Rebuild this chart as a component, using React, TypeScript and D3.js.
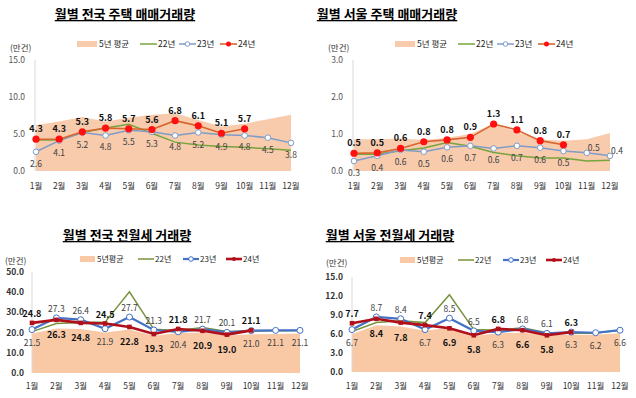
import React from 'react';
import * as d3 from 'd3';

const FONT = "'Noto Sans CJK KR', 'Noto Sans', sans-serif";

const months = ['1월', '2월', '3월', '4월', '5월', '6월', '7월', '8월', '9월', '10월', '11월', '12월'];

// 전국 주택 매매 (만건)
const natSaleAvg = [6.2, 6.7, 7.3, 6.7, 7.2, 7.6, 7.8, 6.9, 6.0, 6.4, 7.0, 7.6];
const natSale22 = [4.2, 4.2, 5.2, 5.8, 6.3, 5.1, 3.9, 3.5, 3.3, 3.2, 3.0, 2.8];
const natSale23 = [2.6, 4.1, 5.2, 4.8, 5.5, 5.3, 4.8, 5.2, 4.9, 4.8, 4.5, 3.8];
const natSale24 = [4.3, 4.3, 5.3, 5.8, 5.7, 5.6, 6.8, 6.1, 5.1, 5.7];

// 서울 주택 매매
const seoulSaleAvg = [0.86, 0.86, 0.88, 0.84, 0.9, 1.0, 1.28, 1.05, 0.85, 0.82, 0.86, 1.03];
const seoulSale22 = [0.45, 0.45, 0.55, 0.62, 0.77, 0.67, 0.5, 0.41, 0.35, 0.35, 0.27, 0.29];
const seoulSale23 = [0.27, 0.41, 0.57, 0.52, 0.64, 0.68, 0.61, 0.68, 0.63, 0.54, 0.49, 0.41];
const seoulSale24 = [0.48, 0.49, 0.61, 0.79, 0.84, 0.91, 1.27, 1.11, 0.82, 0.71];

// 전국 전월세
const natRentAvg = [19.5, 22.0, 21.8, 20.0, 21.5, 18.5, 19.8, 20.0, 18.6, 19.2, 19.3, 19.5];
const natRent22 = [20.5, 24.5, 25.0, 25.2, 40.2, 21.6, 21.0, 22.5, 20.5, 20.8, 20.9, 21.1];
const natRent23 = [21.5, 27.3, 26.4, 21.9, 27.7, 21.3, 20.4, 21.7, 20.1, 21.0, 21.1, 21.1];
const natRent24 = [24.8, 26.3, 24.8, 24.5, 22.8, 19.3, 21.8, 20.9, 19.0, 21.1];

// 서울 전월세
const seoulRentAvg = [6.0, 7.4, 7.2, 6.5, 7.0, 5.7, 6.1, 6.2, 5.8, 5.9, 5.9, 6.1];
const seoulRent22 = [6.4, 7.8, 8.1, 7.8, 12.2, 6.7, 6.6, 7.0, 6.2, 6.1, 6.1, 6.6];
const seoulRent23 = [6.7, 8.7, 8.4, 6.7, 8.5, 6.5, 6.3, 6.8, 6.1, 6.3, 6.2, 6.6];
const seoulRent24 = [7.7, 8.4, 7.8, 7.4, 6.9, 5.8, 6.8, 6.6, 5.8, 6.3];

// label side: a = above, b = below, r = above right
const sideSaleNat23 = 'bbbbbbbbbbbb';
const sideSaleSeoul23 = 'bbbbbbbbbbrr';
const sideRent24 = 'abbabbabba';
const sideRent23 = 'baabaabaabbb';

const COLORS = {
  top: { area: '#F8CBAD', g: '#77A43C', b: '#7F9CC8', r: '#D8652E', rDot: '#FF1010', w22: 1.5, w23: 1.5, w24: 1.6 },
  bottom: { area: '#F9C9A6', g: '#77933C', b: '#4472C4', r: '#B0101A', rDot: '#B0101A', w22: 1.5, w23: 2.2, w24: 2.6 },
};

type Cfg = {
  title: string;
  titleX: number;
  titleY: number;
  variant: 'top' | 'bottom';
  avg: number[];
  s22: number[];
  s23: number[];
  s24: number[];
  side23: string;
  side24: string;
  xr: [number, number];
  yr: [number, number];
  max: number;
  step: number;
  axisX: number;
  tickRight: number;
  unitX: number;
  unitY: number;
  legendX: number;
  legendY: number;
  xLabelY: number;
};

function Panel({ c }: { c: Cfg }) {
  const col = COLORS[c.variant];
  const x = d3.scaleLinear().domain([0, 11]).range(c.xr);
  const y = d3.scaleLinear().domain([0, c.max]).range(c.yr);
  const ticks = d3.range(0, c.max + c.step / 2, c.step);
  const area = d3.area<number>().x((_, i) => x(i)).y0(y(0)).y1(d => y(d));
  const line = d3.line<number>().x((_, i) => x(i)).y(d => y(d));
  const top = c.variant === 'top';
  const lf = top ? 8.5 : 8;
  const off = top
    ? { s: 20, st: 22, l22: 63, l23: 102, l24: 143, len: 17 }
    : { s: 15, st: 17, l22: 58, l23: 103, l24: 146, len: 16 };
  const ly = c.legendY;

  const labelPos = (i: number, v: number, side: string, is24: boolean) => {
    const px = x(i);
    const py = y(v);
    if (side === 'r') return { x: px + 7, y: py - 2 };
    if (side === 'a') return { x: px, y: py - (top ? 7 : 6) };
    return { x: px, y: py + (top ? 15 : is24 ? 18 : 16) };
  };

  return (
    <g>
      <text x={c.titleX} y={c.titleY} textAnchor="middle" fontFamily={FONT} fontWeight="bold" fontSize={13}
        style={{ textDecoration: 'underline' }} fill="#000">{c.title}</text>

      {/* legend */}
      <rect x={c.legendX} y={ly - 3} width={off.s} height={6} fill={col.area} />
      <text x={c.legendX + off.st} y={ly + 3} fontFamily={FONT} fontSize={lf} fill="#222">{top ? '5년 평균' : '5년평균'}</text>
      <line x1={c.legendX + off.l22} x2={c.legendX + off.l22 + off.len} y1={ly} y2={ly} stroke={col.g} strokeWidth={col.w22} />
      <text x={c.legendX + off.l22 + off.len + 1} y={ly + 3} fontFamily={FONT} fontSize={lf} fill="#222">22년</text>
      <line x1={c.legendX + off.l23} x2={c.legendX + off.l23 + off.len} y1={ly} y2={ly} stroke={col.b} strokeWidth={col.w23} />
      <circle cx={c.legendX + off.l23 + off.len / 2} cy={ly} r={2.3} fill="#fff" stroke={col.b} strokeWidth={1} />
      <text x={c.legendX + off.l23 + off.len + 1} y={ly + 3} fontFamily={FONT} fontSize={lf} fill="#222">23년</text>
      <line x1={c.legendX + off.l24} x2={c.legendX + off.l24 + off.len} y1={ly} y2={ly} stroke={col.r} strokeWidth={col.w24} />
      <circle cx={c.legendX + off.l24 + off.len / 2} cy={ly} r={top ? 2.5 : 2} fill={col.rDot} />
      <text x={c.legendX + off.l24 + off.len + 1} y={ly + 3} fontFamily={FONT} fontSize={lf} fill="#222">24년</text>

      <text x={c.unitX} y={c.unitY} fontFamily={FONT} fontSize={8.5} fill="#333">(만건)</text>

      {ticks.map(t => (
        <text key={t} x={c.tickRight} y={y(t) + 3} textAnchor="end" fontFamily={FONT} fontSize={8.5}
          fill={top ? '#555' : '#333'} fontWeight={top ? 'normal' : 'bold'}>{t.toFixed(1)}</text>
      ))}

      <path d={area(c.avg) || ''} fill={col.area} />
      <line x1={c.axisX} x2={c.axisX} y1={y(c.max)} y2={y(0)} stroke="#D9D9D9" strokeWidth={1} />

      <path d={line(c.s22) || ''} fill="none" stroke={col.g} strokeWidth={col.w22} />
      <path d={line(c.s23) || ''} fill="none" stroke={col.b} strokeWidth={col.w23} />
      {c.s23.map((v, i) => (
        <circle key={i} cx={x(i)} cy={y(v)} r={top ? 2.8 : 3} fill="#fff" stroke={col.b} strokeWidth={1} />
      ))}
      <path d={line(c.s24) || ''} fill="none" stroke={col.r} strokeWidth={col.w24} />
      {c.s24.map((v, i) => (
        top
          ? <circle key={i} cx={x(i)} cy={y(v)} r={3.6} fill={col.rDot} />
          : <rect key={i} x={x(i) - 2.3} y={y(v) - 2.3} width={4.6} height={4.6} fill={col.rDot} />
      ))}

      {c.s23.map((v, i) => {
        const p = labelPos(i, v, c.side23[i], false);
        return (
          <text key={i} x={p.x} y={p.y} textAnchor="middle" fontFamily={FONT} fontSize={8.5} fill="#404040">{v.toFixed(1)}</text>
        );
      })}
      {c.s24.map((v, i) => {
        const p = labelPos(i, v, c.side24[i], true);
        return (
          <text key={i} x={p.x} y={p.y} textAnchor="middle" fontFamily={FONT} fontSize={9} fontWeight="bold" fill="#111">{v.toFixed(1)}</text>
        );
      })}

      {months.map((m, i) => (
        <text key={m} x={x(i)} y={c.xLabelY} textAnchor="middle" fontFamily={FONT} fontSize={8.5} fill="#333">{m}</text>
      ))}
    </g>
  );
}

const panels: Cfg[] = [
  {
    title: '월별 전국 주택 매매거래량', titleX: 125, titleY: 19, variant: 'top',
    avg: natSaleAvg, s22: natSale22, s23: natSale23, s24: natSale24,
    side23: sideSaleNat23, side24: 'aaaaaaaaaa',
    xr: [36, 291], yr: [171, 60], max: 15, step: 5, axisX: 35, tickRight: 25,
    unitX: 10, unitY: 51, legendX: 77, legendY: 44, xLabelY: 189,
  },
  {
    title: '월별 서울 주택 매매거래량', titleX: 387, titleY: 19, variant: 'top',
    avg: seoulSaleAvg, s22: seoulSale22, s23: seoulSale23, s24: seoulSale24,
    side23: sideSaleSeoul23, side24: 'aaaaaaaaaa',
    xr: [354, 610], yr: [171, 60], max: 3, step: 1, axisX: 353, tickRight: 343,
    unitX: 328, unitY: 51, legendX: 395, legendY: 44, xLabelY: 189,
  },
  {
    title: '월별 전국 전월세 거래량', titleX: 127, titleY: 240, variant: 'bottom',
    avg: natRentAvg, s22: natRent22, s23: natRent23, s24: natRent24,
    side23: sideRent23, side24: sideRent24,
    xr: [32, 300], yr: [373, 272], max: 50, step: 10, axisX: 32, tickRight: 24,
    unitX: 5, unitY: 264, legendX: 80, legendY: 259, xLabelY: 389,
  },
  {
    title: '월별 서울 전월세 거래량', titleX: 390, titleY: 240, variant: 'bottom',
    avg: seoulRentAvg, s22: seoulRent22, s23: seoulRent23, s24: seoulRent24,
    side23: sideRent23, side24: sideRent24,
    xr: [352, 620], yr: [372, 277], max: 15, step: 3, axisX: 352, tickRight: 343,
    unitX: 326, unitY: 266, legendX: 400, legendY: 260, xLabelY: 389,
  },
];

export default function App() {
  return (
    <svg width={636} height={398} style={{ position: 'absolute', left: 0, top: 0, background: '#fff' }}>
      {panels.map(p => <Panel key={p.title} c={p} />)}
    </svg>
  );
}
